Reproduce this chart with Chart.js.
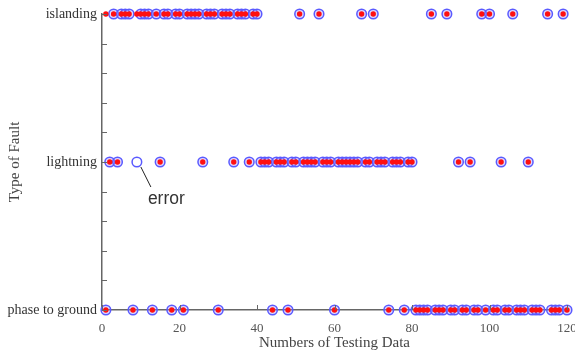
<!DOCTYPE html>
<html>
<head>
<meta charset="utf-8">
<script src="https://cdn.jsdelivr.net/npm/chart.js@4.4.1/dist/chart.umd.min.js"></script>
<style>
  html, body { margin: 0; padding: 0; background: #ffffff; }
  #wrap { width: 575px; height: 354px; position: relative; }
</style>
</head>
<body>
<div id="wrap"><canvas id="c" width="575" height="354"></canvas></div>
<script>
// ---- Data ----
const categoryLabels = ['phase to ground', 'lightning', 'islanding']; // y = 1, 2, 3
const xTickLabels = [0, 20, 40, 60, 80, 100, 120];

// Actual class of each test sample (blue open circles), by sample number
const actualIslanding = [3, 5, 6, 7, 10, 11, 12, 14, 16, 17, 19, 20, 22, 23, 24, 25, 27, 28, 29, 31, 32, 33, 35, 36, 37, 39, 40,
  51, 56, 67, 70, 85, 89, 98, 100, 106, 115, 119];
const actualLightning = [2, 4, 9, 15, 26, 34, 38,
  41, 42, 43, 45, 46, 47, 49, 50, 52, 53, 54, 55, 57, 58, 59, 61, 62, 63, 64, 65, 66, 68, 69, 71, 72, 73, 75, 76, 77, 79, 80,
  92, 95, 103, 110];
const actualPhase = [1, 8, 13, 18, 21, 30, 44, 48, 60, 74, 78,
  81, 82, 83, 84, 86, 87, 88, 90, 91, 93, 94, 96, 97, 99, 101, 102, 104, 105, 107, 108, 109, 111, 112, 113, 116, 117, 118, 120];

// Predicted class of each test sample (red marks)
const predictedIslanding = [1, 3, 5, 6, 7, 9, 10, 11, 12, 14, 16, 17, 19, 20, 22, 23, 24, 25, 27, 28, 29, 31, 32, 33, 35, 36, 37, 39, 40,
  51, 56, 67, 70, 85, 89, 98, 100, 106, 115, 119];
const predictedLightning = [2, 4, 15, 26, 34, 38,
  41, 42, 43, 45, 46, 47, 49, 50, 52, 53, 54, 55, 57, 58, 59, 61, 62, 63, 64, 65, 66, 68, 69, 71, 72, 73, 75, 76, 77, 79, 80,
  92, 95, 103, 110];
const predictedPhase = [1, 8, 13, 18, 21, 30, 44, 48, 60, 74, 78,
  81, 82, 83, 84, 86, 87, 88, 90, 91, 93, 94, 96, 97, 99, 101, 102, 104, 105, 107, 108, 109, 111, 112, 113, 116, 117, 118, 120];

// Misclassified sample marked "error" (sample number, actual class value)
const errorSample = [9, 2];
const errorText = 'error';

// ---- Build library data ----
function pts(list, yv) { return list.map(x => ({ x: x, y: yv })); }
const actualPoints = [].concat(pts(actualPhase, 1), pts(actualLightning, 2), pts(actualIslanding, 3));
const predictedPoints = [].concat(pts(predictedPhase, 1), pts(predictedLightning, 2), pts(predictedIslanding, 3));

const inwardTicks = {
  id: 'inwardTicks',
  afterDraw(chart) {
    const ctx = chart.ctx;
    const xs = chart.scales.x, ys = chart.scales.y;
    const area = chart.chartArea;
    ctx.save();
    ctx.strokeStyle = '#666666';
    ctx.lineWidth = 1;
    ys.ticks.forEach(t => {
      const py = Math.round(ys.getPixelForValue(t.value)) + 0.5;
      ctx.beginPath();
      ctx.moveTo(area.left, py);
      ctx.lineTo(area.left + 5, py);
      ctx.stroke();
    });
    xs.ticks.forEach(t => {
      const px = Math.round(xs.getPixelForValue(t.value)) + 0.5;
      ctx.beginPath();
      ctx.moveTo(px, area.bottom);
      ctx.lineTo(px, area.bottom - 5);
      ctx.stroke();
    });
    // error annotation
    const ex = xs.getPixelForValue(errorSample[0]);
    const ey = ys.getPixelForValue(errorSample[1]);
    ctx.strokeStyle = '#222222';
    ctx.lineWidth = 1;
    ctx.beginPath();
    ctx.moveTo(ex + 4, ey + 5);
    ctx.lineTo(ex + 14, ey + 25);
    ctx.stroke();
    ctx.fillStyle = '#333333';
    ctx.font = '17.5px "Liberation Sans", Arial, sans-serif';
    ctx.textAlign = 'left';
    ctx.textBaseline = 'middle';
    ctx.fillText(errorText, ex + 11, ey + 37);
    ctx.restore();
  }
};

function isErrorPoint(c) {
  return c.raw && c.raw.x === errorSample[0] && c.raw.y === errorSample[1];
}

new Chart(document.getElementById('c'), {
  type: 'scatter',
  data: {
    datasets: [
      {
        label: 'Actual',
        data: actualPoints,
        pointStyle: 'circle',
        pointRadius: 4.8,
        pointBorderWidth: 1.5,
        pointBorderColor: '#5a5aff',
        pointBackgroundColor: c => isErrorPoint(c) ? '#ffffff' : 'rgba(160,140,255,0.35)',
        clip: false,
        order: 2
      },
      {
        label: 'Predicted',
        data: predictedPoints,
        pointStyle: 'circle',
        pointRadius: 2.7,
        pointBorderWidth: 0,
        pointBorderColor: '#ff0000',
        pointBackgroundColor: '#ff1010',
        clip: false,
        order: 1
      }
    ]
  },
  options: {
    responsive: false,
    animation: false,
    events: [],
    layout: { padding: { top: 14, right: 8, left: 0, bottom: 0 } },
    plugins: {
      legend: { display: false },
      tooltip: { enabled: false }
    },
    scales: {
      x: {
        type: 'linear',
        min: 0,
        max: 120,
        afterBuildTicks(scale) { scale.ticks = xTickLabels.map(v => ({ value: v })); },
        afterFit(scale) { scale.height = 44; scale.paddingRight = 0; scale.paddingLeft = 0; },
        grid: { display: false },
        border: { display: true, color: '#666666', width: 1.5 },
        ticks: {
          padding: 3,
          color: '#555555',
          font: { family: '"Liberation Serif", "Times New Roman", serif', size: 13 },
          maxRotation: 0,
          autoSkip: false
        },
        title: {
          display: true,
          text: 'Numbers of Testing Data',
          color: '#444444',
          font: { family: '"Liberation Serif", "Times New Roman", serif', size: 15 },
          padding: { top: 0, bottom: 2 }
        }
      },
      y: {
        type: 'linear',
        min: 1,
        max: 3,
        afterFit(scale) { scale.width = 102; scale.paddingTop = 0; scale.paddingBottom = 0; },
        grid: { display: false },
        border: { display: true, color: '#666666', width: 1.5 },
        ticks: {
          stepSize: 0.2,
          autoSkip: false,
          padding: -3,
          color: '#333333',
          font: { family: '"Liberation Serif", "Times New Roman", serif', size: 14 },
          callback: function (v) {
            const r = Math.round(v);
            if (Math.abs(v - r) < 1e-6 && r >= 1 && r <= 3) return categoryLabels[r - 1];
            return '';
          }
        },
        title: {
          display: true,
          text: 'Type of Fault',
          color: '#444444',
          font: { family: '"Liberation Serif", "Times New Roman", serif', size: 15 },
          padding: { top: 6, bottom: 0 }
        }
      }
    }
  },
  plugins: [inwardTicks]
});
</script>
</body>
</html>
